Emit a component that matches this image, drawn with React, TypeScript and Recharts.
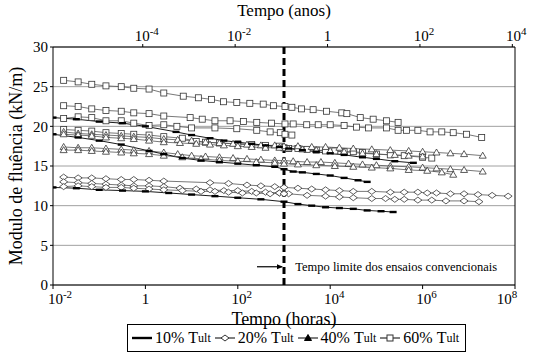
import React from "react";
import {
  LineChart,
  Line,
  XAxis,
  YAxis,
  CartesianGrid,
  ReferenceLine,
  ReferenceDot,
  Legend,
} from "recharts";

// tempos em horas, módulos em kN/m
const t60a = [0.017, 0.035, 0.069, 0.14, 0.3, 0.56, 1.2, 2.5, 6.6, 14, 27, 49, 95, 182, 355, 589, 1050, 1480, 2400, 4270, 8300, 17800, 22900, 44700, 85100, 1.66e5, 2.95e5];
const v60a = [25.8, 25.6, 25.3, 25.1, 25.0, 24.8, 24.7, 24.2, 23.8, 23.6, 23.4, 23.1, 23.0, 22.9, 22.8, 22.6, 22.5, 22.4, 22.2, 22.1, 21.9, 21.7, 21.6, 21.1, 20.9, 20.7, 20.5];

const t60b = [0.017, 0.035, 0.069, 0.14, 0.3, 0.56, 1.2, 2.5, 9.3, 17, 32, 68, 132, 257, 537, 1050, 1580, 3100, 5500, 1e4, 20000, 37200, 67600, 1.66e5, 2.95e5, 4.5e5, 7.9e5, 1.45e6, 2.6e6, 4.6e6, 8.9e6, 1.9e7];
const v60b = [22.6, 22.5, 22.2, 22.0, 21.9, 21.7, 21.6, 21.3, 21.1, 20.9, 20.7, 20.7, 20.6, 20.5, 20.4, 20.3, 20.3, 20.2, 20.2, 20.2, 20.1, 19.9, 19.8, 19.8, 19.5, 19.5, 19.5, 19.3, 19.3, 19.2, 19.0, 18.6];

const t60c = [0.017, 0.035, 0.069, 0.14, 0.3, 0.56, 1.2, 2.5, 4.8, 10, 32, 95, 257, 501, 832, 1050, 1480];
const v60c = [21.0, 21.2, 21.1, 20.7, 20.7, 20.4, 20.1, 20.2, 20.0, 19.8, 19.8, 19.7, 19.5, 19.3, 19.2, 19.0, 18.9];

const t60d = [0.017, 0.035, 0.069, 0.14, 0.3, 0.56, 1.2, 2.5, 6.3, 12.6, 20, 40, 100, 200, 398, 794, 1000, 1260, 2000, 3160, 5000, 7940, 12600, 20000, 31600, 50100, 1e5, 2e5, 4e5, 1e6, 1.58e6];
const v60d = [19.6, 19.5, 19.4, 19.2, 19.1, 19.0, 18.9, 18.7, 18.5, 18.1, 18.0, 17.9, 17.8, 17.7, 17.6, 17.5, 17.3, 17.2, 17.2, 17.1, 17.0, 16.9, 16.9, 16.8, 16.8, 16.7, 16.5, 16.4, 16.3, 16.1, 16.0];

const t40a = [0.017, 0.035, 0.069, 0.14, 0.3, 0.56, 1.2, 2.5, 5, 10, 20, 40, 79, 158, 316, 631, 1000, 2000, 3980, 7940, 15800, 31600, 79400, 2e5, 5e5, 1e6, 2e6, 4e6, 7.9e6, 2e7];
const v40a = [19.3, 19.1, 19.0, 18.9, 18.8, 18.7, 18.6, 18.4, 18.3, 18.2, 18.0, 17.9, 17.8, 17.7, 17.6, 17.6, 17.5, 17.5, 17.4, 17.4, 17.3, 17.2, 17.1, 17.0, 16.9, 16.8, 16.7, 16.6, 16.5, 16.3];

const t40b = [0.017, 0.035, 0.069, 0.14, 0.3, 0.56, 1.2, 2.5, 5.6, 12.6, 25, 50, 100, 200, 398, 794, 1260, 2500, 5000, 1e4, 20000, 50000, 1e5, 2.5e5, 5e5, 1e6];
const v40b = [19.0, 18.9, 18.8, 18.6, 18.5, 18.4, 18.2, 18.0, 17.9, 17.8, 17.7, 17.6, 17.5, 17.4, 17.3, 17.3, 17.2, 17.1, 17.0, 16.9, 16.8, 16.6, 16.5, 16.4, 16.3, 16.2];

const t40c = [0.017, 0.035, 0.069, 0.14, 0.3, 0.56, 1.2, 2.5, 5, 10, 20, 40, 79, 158, 316, 631, 1000, 1580, 3160, 6300, 12600, 25000, 50000, 1e5, 2e5, 5e5, 1e6, 2e6, 4e6, 7.9e6, 2e7];
const v40c = [17.4, 17.3, 17.3, 17.2, 17.1, 17.0, 16.9, 16.7, 16.5, 16.3, 16.2, 16.1, 16.0, 15.9, 15.8, 15.7, 15.7, 15.6, 15.5, 15.5, 15.4, 15.3, 15.2, 15.1, 15.0, 14.9, 14.8, 14.7, 14.6, 14.5, 14.3];

const t40d = [0.017, 0.035, 0.069, 0.14, 0.3, 0.56, 1.2, 2.5, 6.3, 16, 40, 100, 251, 631, 1000, 2000, 5000, 12600, 31600, 79400, 2e5, 5e5, 1.26e6, 2.6e6, 4.6e6];
const v40d = [17.0, 17.0, 16.9, 16.8, 16.7, 16.6, 16.5, 16.3, 16.1, 15.9, 15.7, 15.6, 15.5, 15.4, 15.3, 15.2, 15.1, 15.0, 14.9, 14.8, 14.7, 14.5, 14.4, 14.2, 13.9];

const t20a = [0.017, 0.035, 0.069, 0.14, 0.3, 0.56, 1.2, 2.5, 25, 63, 158, 316, 631, 1000, 2000, 3980, 7940, 15800, 31600, 79400, 2e5, 4e5, 7.9e5, 1.26e6, 2e6, 4e6, 7.9e6, 1.58e7, 3.2e7, 7.1e7];
const v20a = [13.6, 13.5, 13.5, 13.4, 13.3, 13.3, 13.2, 13.1, 12.9, 12.8, 12.6, 12.5, 12.4, 12.3, 12.2, 12.1, 12.0, 11.9, 11.8, 11.8, 11.7, 11.7, 11.7, 11.6, 11.6, 11.5, 11.5, 11.4, 11.3, 11.2];

const t20b = [0.017, 0.035, 0.069, 0.14, 0.3, 0.56, 1.2, 2.5, 5.6, 12.6, 25, 50, 100, 200, 398, 794, 1000, 1260, 3160, 7940, 15800, 31600, 79400, 1.58e5, 2.5e5, 4e5, 7.9e5, 1.58e6, 3.2e6, 7.9e6, 1.66e7];
const v20b = [13.0, 12.9, 12.8, 12.7, 12.6, 12.5, 12.5, 12.4, 12.2, 12.1, 12.0, 11.9, 11.9, 11.8, 11.7, 11.6, 11.6, 11.5, 11.3, 11.2, 11.1, 11.0, 10.9, 10.9, 10.8, 10.8, 10.7, 10.7, 10.6, 10.6, 10.5];

const t20c = [0.017, 0.035, 0.069, 0.14, 0.3, 0.56, 1.2, 2.5, 6.3, 16, 32, 63, 126, 251, 501, 794, 1000];
const v20c = [12.4, 12.5, 12.4, 12.3, 12.3, 12.2, 12.1, 12.0, 11.9, 11.8, 11.8, 11.7, 11.6, 11.6, 11.5, 11.6, 11.5];

const t10a = [0.01, 0.032, 0.1, 0.32, 1, 4.6, 10, 25, 50, 100, 200, 398, 794, 1260, 2500, 5000, 1e4, 20000, 50000, 1e5, 2.5e5, 6.3e5];
const v10a = [21.1, 20.9, 20.6, 20.4, 20.0, 19.3, 18.9, 18.5, 18.2, 18.0, 17.8, 17.6, 17.4, 17.2, 17.0, 16.8, 16.6, 16.4, 16.1, 15.9, 15.6, 15.4];

const t10b = [0.01, 0.035, 0.1, 0.3, 1.2, 2.5, 6.3, 16, 40, 100, 251, 631, 1000, 1580, 2500, 5000, 1e4, 20000, 40000, 63100];
const v10b = [19.0, 18.6, 18.2, 17.7, 16.9, 16.5, 16.0, 15.7, 15.5, 15.3, 15.1, 14.9, 14.6, 14.3, 14.2, 14.0, 13.8, 13.5, 13.2, 13.0];

const t10c = [0.01, 0.032, 0.1, 0.32, 1, 3.2, 10, 32, 100, 316, 1000, 2000, 3980, 7940, 15800, 31600, 63100, 1.26e5, 2.3e5];
const v10c = [12.3, 12.2, 12.0, 11.9, 11.8, 11.6, 11.4, 11.2, 11.0, 10.8, 10.5, 10.2, 10.0, 9.8, 9.7, 9.6, 9.4, 9.3, 9.2];

const hourTicks = [0.01, 1, 100, 1e4, 1e6, 1e8];
const yearTicks = [1e-4, 1e-2, 1, 100, 1e4];
const yearRange = [0.01 / 8760, 1e8 / 8760];
const yTicks = [0, 5, 10, 15, 20, 25, 30];

const pts = (t: number[], v: number[]) => t.map((h, i) => ({ h, v: v[i] }));

const FONT = "Liberation Serif, serif";

const squareDot = (p: any) => (
  <rect key={p.index} x={p.cx - 3} y={p.cy - 3} width={6} height={6} fill="#fff" stroke="#333" strokeWidth={0.8} />
);
const diamondDot = (p: any) => (
  <polygon key={p.index} points={`${p.cx - 4},${p.cy} ${p.cx},${p.cy - 3} ${p.cx + 4},${p.cy} ${p.cx},${p.cy + 3}`} fill="#fff" stroke="#333" strokeWidth={0.8} />
);
const triangleDot = (p: any) => (
  <polygon key={p.index} points={`${p.cx},${p.cy - 3.5} ${p.cx + 3.5},${p.cy + 2.5} ${p.cx - 3.5},${p.cy + 2.5}`} fill="#fff" stroke="#333" strokeWidth={0.8} />
);
const dashDot = (p: any) => (
  <rect key={p.index} x={p.cx - 3.5} y={p.cy - 1.2} width={7} height={2.4} fill="#000" />
);

// rótulo 10^n com expoente sobrescrito
const PowTick = ({ x, y, payload, top, index }: any) => {
  const exp = Math.round(Math.log10(payload.value));
  const yy = top ? y - 1 : y + 13;
  const dx = !top && index === 0 ? 7 : 4;
  if (exp === 0)
    return (
      <text x={x} y={yy} textAnchor="middle" fontSize={15} fontFamily={FONT} fill="#000">1</text>
    );
  return (
    <text x={x + dx} y={yy} textAnchor="middle" fontSize={15} fontFamily={FONT} fill="#000">
      10<tspan dy={-6} fontSize={11}>{exp}</tspan>
    </text>
  );
};

const legendItems = [
  { label: "10%", kind: "dash" },
  { label: "20%", kind: "diamond" },
  { label: "40%", kind: "triangle" },
  { label: "60%", kind: "square" },
];

const LegendIcon = ({ kind }: { kind: string }) => (
  <svg width={22} height={12} style={{ marginRight: 2 }}>
    <line x1={1} y1={6} x2={21} y2={6} stroke="#000" strokeWidth={kind === "dash" ? 2.4 : 1} />
    {kind === "square" && <rect x={8} y={3} width={6} height={6} fill="#fff" stroke="#333" />}
    {kind === "diamond" && <polygon points="7,6 11,3 15,6 11,9" fill="#fff" stroke="#333" />}
    {kind === "triangle" && <polygon points="11,2.5 14.5,8.5 7.5,8.5" fill="#000" stroke="#000" />}
  </svg>
);

const renderLegend = () => (
  <div style={{ paddingLeft: 127, paddingTop: 4, fontFamily: FONT }}>
    <div
      style={{
        display: "inline-flex",
        alignItems: "center",
        border: "1px solid #000",
        height: 28,
        padding: "0 3px",
        fontSize: 16,
        color: "#000",
        boxSizing: "border-box",
      }}
    >
      {legendItems.map((it) => (
        <span key={it.label} style={{ display: "inline-flex", alignItems: "center", marginRight: 3 }}>
          <LegendIcon kind={it.kind} />
          {it.label}&nbsp;T<sub style={{ fontSize: 12, verticalAlign: -4 }}>ult</sub>
        </span>
      ))}
    </div>
  </div>
);

const ArrowHead = (p: any) => (
  <polygon points={`${p.cx},${p.cy} ${p.cx - 6},${p.cy - 2.5} ${p.cx - 6},${p.cy + 2.5}`} fill="#000" />
);
const NoteText = (p: any) => (
  <text x={p.cx} y={p.cy + 4} fontSize={12.5} fontFamily={FONT} fill="#000">
    Tempo limite dos ensaios convencionais
  </text>
);

const greySeries = [
  { id: "60a", d: pts(t60a, v60a), dot: squareDot },
  { id: "60b", d: pts(t60b, v60b), dot: squareDot },
  { id: "60c", d: pts(t60c, v60c), dot: squareDot },
  { id: "60d", d: pts(t60d, v60d), dot: squareDot },
  { id: "40a", d: pts(t40a, v40a), dot: triangleDot },
  { id: "40b", d: pts(t40b, v40b), dot: triangleDot },
  { id: "40c", d: pts(t40c, v40c), dot: triangleDot },
  { id: "40d", d: pts(t40d, v40d), dot: triangleDot },
  { id: "20a", d: pts(t20a, v20a), dot: diamondDot },
  { id: "20b", d: pts(t20b, v20b), dot: diamondDot },
  { id: "20c", d: pts(t20c, v20c), dot: diamondDot },
];
const blackSeries = [
  { id: "10a", d: pts(t10a, v10a) },
  { id: "10b", d: pts(t10b, v10b) },
  { id: "10c", d: pts(t10c, v10c) },
];

// linha invisível só para o eixo superior (anos) ganhar domínio
const yearAxisData = yearRange.map((h) => ({ h, v: 30 }));

export default function App() {
  return (
    <div style={{ position: "absolute", left: 0, top: 0, fontFamily: FONT }}>
      <LineChart width={539} height={358} margin={{ top: 0, right: 24, bottom: 0, left: 2 }} style={{ fontFamily: FONT }}>
        <CartesianGrid vertical={false} stroke="#a0a0a0" />
        <XAxis
          xAxisId="bottom"
          dataKey="h"
          type="number"
          scale="log"
          domain={[0.01, 1e8]}
          ticks={hourTicks}
          allowDataOverflow
          height={35}
          stroke="#000"
          tickSize={4}
          tick={<PowTick />}
          label={{ value: "Tempo (horas)", position: "insideBottom", offset: -5, fontSize: 18, fill: "#000", fontFamily: FONT }}
        />
        <XAxis
          xAxisId="top"
          orientation="top"
          dataKey="h"
          type="number"
          scale="log"
          domain={yearRange}
          ticks={yearTicks}
          allowDataOverflow
          height={47}
          stroke="#000"
          tickSize={3}
          tick={<PowTick top />}
          label={{ value: "Tempo (anos)", position: "insideTop", offset: 4, fontSize: 17, fill: "#000", fontFamily: FONT }}
        />
        <YAxis
          domain={[0, 30]}
          ticks={yTicks}
          width={51}
          stroke="#000"
          tickSize={3}
          tick={{ fontSize: 15, fill: "#000", fontFamily: FONT }}
          label={{ value: "Modulo de fluência (kN/m)", angle: -90, position: "insideLeft", offset: 14, fontSize: 18, fill: "#000", fontFamily: FONT, style: { textAnchor: "middle" } }}
        />
        <ReferenceLine xAxisId="bottom" x={1e8} stroke="#000" />
        <Line
          xAxisId="top"
          data={yearAxisData}
          dataKey="v"
          stroke="none"
          dot={false}
          activeDot={false}
          legendType="none"
          isAnimationActive={false}
        />
        {greySeries.map((s) => (
          <Line
            key={s.id}
            xAxisId="bottom"
            data={s.d}
            dataKey="v"
            stroke="#555"
            strokeWidth={0.8}
            dot={s.dot}
            isAnimationActive={false}
          />
        ))}
        {blackSeries.map((s) => (
          <Line
            key={s.id}
            xAxisId="bottom"
            data={s.d}
            dataKey="v"
            stroke="#000"
            strokeWidth={0.9}
            dot={dashDot}
            isAnimationActive={false}
          />
        ))}
        <ReferenceLine xAxisId="bottom" x={1000} stroke="#000" strokeWidth={3} strokeDasharray="7 4" />
        <ReferenceLine xAxisId="bottom" segment={[{ x: 260, y: 2.3 }, { x: 900, y: 2.3 }]} stroke="#000" strokeWidth={1.2} />
        <ReferenceDot xAxisId="bottom" x={950} y={2.3} shape={ArrowHead} />
        <ReferenceDot xAxisId="bottom" x={1750} y={2.3} shape={NoteText} />
        <Legend verticalAlign="bottom" height={38} content={renderLegend} wrapperStyle={{ left: 0, width: 539 }} />
      </LineChart>
    </div>
  );
}
